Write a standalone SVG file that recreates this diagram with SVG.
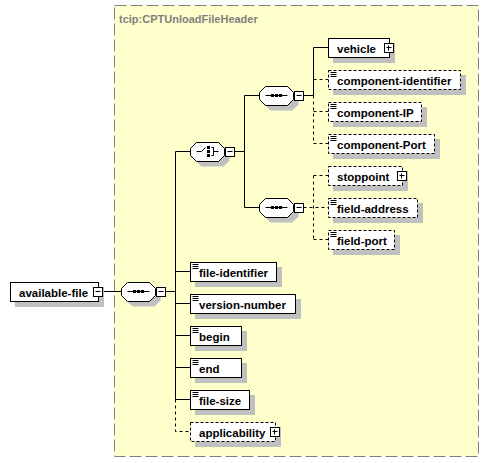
<svg xmlns="http://www.w3.org/2000/svg" xmlns:xlink="http://www.w3.org/1999/xlink" width="489" height="463" viewBox="0 0 489 463">
<style>
.box{fill:#fff;stroke:#000;stroke-width:1}
.opt{stroke-dasharray:3,2}
.sh{fill:#c0c0c0;stroke:none}
.t{font-family:"Liberation Sans",Arial,sans-serif;font-weight:bold;font-size:11.5px;fill:#000}
.ttl{font-family:"Liberation Sans",Arial,sans-serif;font-weight:bold;font-size:11px;fill:#808080}
.ln{stroke:#000;stroke-width:1;fill:none}
.dl{stroke:#000;stroke-width:1;fill:none;stroke-dasharray:3,3}
</style>
<defs>
<path id="comp" d="M6,0 H28 L34,6 V13 L28,19 H6 L0,13 V6 Z"/>
<g id="minus"><rect x="0" y="0" width="9" height="9" fill="#fff" stroke="#000"/><path d="M2,4H7" stroke="#000"/></g>
<g id="plus"><rect x="0" y="0" width="9" height="9" fill="#fff" stroke="#000"/><path d="M2,4H7M4,2V7" stroke="#000"/></g>
<path id="doc" d="M2,2H8M2,4H8M2,6H8" stroke="#000" fill="none"/>
<g id="seqicon"><path d="M6,9H28" stroke="#000"/><rect x="11.5" y="7.5" width="3" height="3" fill="#000"/><rect x="15.5" y="7.5" width="3" height="3" fill="#000"/><rect x="19.5" y="7.5" width="3" height="3" fill="#000"/></g>
<g id="choiceicon"><path d="M6,9H11L15,5M21,5H23V13H21M23,9H28" stroke="#000" fill="none"/><rect x="16.5" y="3.5" width="3" height="3" fill="#000"/><rect x="16.5" y="7.5" width="3" height="3" fill="#000"/><rect x="16.5" y="11.5" width="3" height="3" fill="#000"/></g>
</defs>
<rect x="0" y="0" width="489" height="463" fill="#fff"/>
<g id="type-area">
<rect x="114.5" y="5.5" width="364" height="451" fill="#ffffcc" stroke="#808080" stroke-dasharray="12,4"/>
<text class="ttl" x="119" y="23">tcip:CPTUnloadFileHeader</text>
</g>
<g id="connectors">
<path class="ln" d="M102.5,291.5H121.5M165.5,291.5H175.5M175.5,151.5V399.5M175.5,151.5H190.5M175.5,271.5H190.5M175.5,303.5H190.5M175.5,335.5H190.5M175.5,367.5H190.5M175.5,399.5H190.5"/>
<path class="dl" d="M175.5,399.5V431.5H190.5"/>
<path class="ln" d="M234.5,151.5H244.5M244.5,95.5V207.5M244.5,95.5H259.5M244.5,207.5H259.5"/>
<path class="ln" d="M303.5,95.5H313.5M313.5,47.5V95.5M313.5,47.5H328.5"/>
<path class="dl" d="M313.5,95.5V143.5M313.5,79.5H328.5M313.5,111.5H328.5M313.5,143.5H328.5"/>
<path class="dl" d="M303.5,207.5H328.5M313.5,175.5V239.5M313.5,175.5H328.5M313.5,239.5H328.5"/>
</g>
<g id="available-file">
<rect class="sh" x="15" y="287" width="89" height="20"/>
<rect class="box" x="10.5" y="282.5" width="88" height="19"/>
<text class="t" x="19" y="296.5">available-file</text>
<use xlink:href="#minus" x="93.5" y="287.5"/>
</g>
<g id="seq-main" transform="translate(121.5,282.5)">
<use xlink:href="#comp" x="5" y="5" class="sh"/>
<use xlink:href="#comp" class="box"/>
<use xlink:href="#seqicon"/>
<use xlink:href="#minus" x="35" y="5"/>
</g>
<g id="choice" transform="translate(190.5,142.5)">
<use xlink:href="#comp" x="5" y="5" class="sh"/>
<use xlink:href="#comp" class="box"/>
<use xlink:href="#choiceicon"/>
<use xlink:href="#minus" x="35" y="5"/>
</g>
<g id="seq-upper" transform="translate(259.5,86.5)">
<use xlink:href="#comp" x="5" y="5" class="sh"/>
<use xlink:href="#comp" class="box"/>
<use xlink:href="#seqicon"/>
<use xlink:href="#minus" x="35" y="5"/>
</g>
<g id="seq-lower" transform="translate(259.5,198.5)">
<use xlink:href="#comp" x="5" y="5" class="sh"/>
<use xlink:href="#comp" class="box"/>
<use xlink:href="#seqicon"/>
<use xlink:href="#minus" x="35" y="5"/>
</g>
<g id="vehicle" transform="translate(328.5,38.5)">
<rect class="sh" x="4.5" y="4.5" width="62" height="20"/>
<rect class="box" x="0" y="0" width="61" height="19"/>
<text class="t" x="8.5" y="14">vehicle</text>
<use xlink:href="#plus" x="56" y="5"/>
</g>
<g id="component-identifier" transform="translate(328.5,70.5)">
<rect class="sh" x="4.5" y="4.5" width="133" height="20"/>
<rect class="box opt" x="0" y="0" width="132" height="19"/>
<use xlink:href="#doc"/>
<text class="t" x="8.5" y="14">component-identifier</text>
</g>
<g id="component-IP" transform="translate(328.5,102.5)">
<rect class="sh" x="4.5" y="4.5" width="94" height="20"/>
<rect class="box opt" x="0" y="0" width="93" height="19"/>
<use xlink:href="#doc"/>
<text class="t" x="8.5" y="14">component-IP</text>
</g>
<g id="component-Port" transform="translate(328.5,134.5)">
<rect class="sh" x="4.5" y="4.5" width="107" height="20"/>
<rect class="box opt" x="0" y="0" width="106" height="19"/>
<use xlink:href="#doc"/>
<text class="t" x="8.5" y="14">component-Port</text>
</g>
<g id="stoppoint" transform="translate(328.5,166.5)">
<rect class="sh" x="4.5" y="4.5" width="75" height="20"/>
<rect class="box opt" x="0" y="0" width="74" height="19"/>
<text class="t" x="8.5" y="14">stoppoint</text>
<use xlink:href="#plus" x="69" y="5"/>
</g>
<g id="field-address" transform="translate(328.5,198.5)">
<rect class="sh" x="4.5" y="4.5" width="90" height="20"/>
<rect class="box opt" x="0" y="0" width="89" height="19"/>
<use xlink:href="#doc"/>
<text class="t" x="8.5" y="14">field-address</text>
</g>
<g id="field-port" transform="translate(328.5,230.5)">
<rect class="sh" x="4.5" y="4.5" width="67" height="20"/>
<rect class="box opt" x="0" y="0" width="66" height="19"/>
<use xlink:href="#doc"/>
<text class="t" x="8.5" y="14">field-port</text>
</g>
<g id="file-identifier" transform="translate(190.5,262.5)">
<rect class="sh" x="4.5" y="4.5" width="87" height="20"/>
<rect class="box" x="0" y="0" width="86" height="19"/>
<use xlink:href="#doc"/>
<text class="t" x="8.5" y="14">file-identifier</text>
</g>
<g id="version-number" transform="translate(190.5,294.5)">
<rect class="sh" x="4.5" y="4.5" width="106" height="20"/>
<rect class="box" x="0" y="0" width="105" height="19"/>
<use xlink:href="#doc"/>
<text class="t" x="8.5" y="14">version-number</text>
</g>
<g id="begin" transform="translate(190.5,326.5)">
<rect class="sh" x="4.5" y="4.5" width="52" height="20"/>
<rect class="box" x="0" y="0" width="51" height="19"/>
<use xlink:href="#doc"/>
<text class="t" x="8.5" y="14">begin</text>
</g>
<g id="end" transform="translate(190.5,358.5)">
<rect class="sh" x="4.5" y="4.5" width="52" height="20"/>
<rect class="box" x="0" y="0" width="51" height="19"/>
<use xlink:href="#doc"/>
<text class="t" x="8.5" y="14">end</text>
</g>
<g id="file-size" transform="translate(190.5,390.5)">
<rect class="sh" x="4.5" y="4.5" width="60" height="20"/>
<rect class="box" x="0" y="0" width="59" height="19"/>
<use xlink:href="#doc"/>
<text class="t" x="8.5" y="14">file-size</text>
</g>
<g id="applicability" transform="translate(190.5,422.5)">
<rect class="sh" x="4.5" y="4.5" width="86" height="20"/>
<rect class="box opt" x="0" y="0" width="85" height="19"/>
<text class="t" x="8.5" y="14">applicability</text>
<use xlink:href="#plus" x="80" y="5"/>
</g>
</svg>
